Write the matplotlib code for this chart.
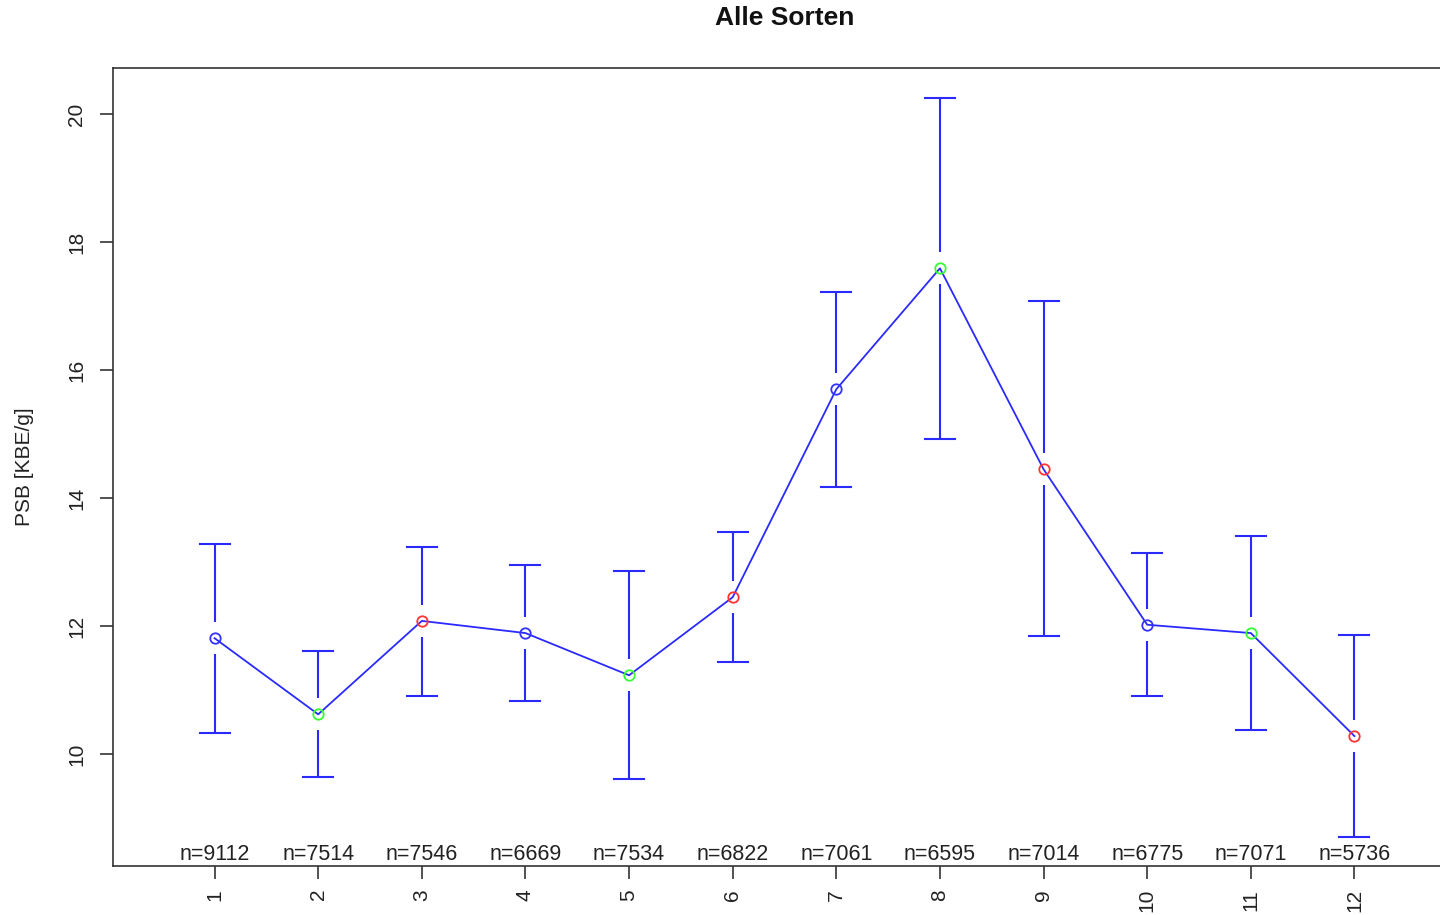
import matplotlib
matplotlib.use("Agg")
import matplotlib.pyplot as plt

plt.rcParams['font.family'] = ['Liberation Sans', 'DejaVu Sans']

months = [1, 2, 3, 4, 5, 6, 7, 8, 9, 10, 11, 12]
means = [11.81, 10.62, 12.08, 11.89, 11.23, 12.45, 15.70, 17.59, 14.45, 12.02, 11.89, 10.28]
upper = [13.28, 11.61, 13.23, 12.95, 12.86, 13.47, 17.22, 20.25, 17.08, 13.14, 13.41, 11.86]
lower = [10.33, 9.64, 10.91, 10.83, 9.61, 11.44, 14.17, 14.92, 11.84, 10.91, 10.38, 8.70]
counts = [9112, 7514, 7546, 6669, 7534, 6822, 7061, 6595, 7014, 6775, 7071, 5736]
point_colors = ['#3333ff', '#33ff33', '#ff3333'] * 4

fig = plt.figure(figsize=(14.4, 9.15), dpi=100)
ax = fig.add_axes([113/1440, 1 - 866/915, (1456 - 113)/1440, (866 - 68)/915])

blue = '#2a2aff'
gap = 0.25
cap = 0.145
for x, m, u, l in zip(months, means, upper, lower):
    ax.plot([x, x], [m + gap, u], color=blue, lw=1.5, solid_capstyle='butt')
    ax.plot([x, x], [l, m - gap], color=blue, lw=1.5, solid_capstyle='butt')
    ax.plot([x - cap, x + cap], [u, u], color=blue, lw=1.5)
    ax.plot([x - cap, x + cap], [l, l], color=blue, lw=1.5)

ax.plot(months, means, color=blue, lw=1.3, zorder=3)
for x, m, c in zip(months, means, point_colors):
    ax.plot([x], [m], marker='o', ms=7.5, mfc='none', mec=c, mew=1.3, zorder=4)

ax.set_xlim(0.02, 12.98)
ax.set_ylim(8.25, 20.72)

for x, n in zip(months, counts):
    ax.text(x, 8.27, f"n={n}", ha='center', va='bottom', fontsize=15.5, color='#222222')

ax.set_xticks(months)
ax.set_xticklabels([str(m) for m in months], rotation=90, fontsize=15)
ax.set_yticks([10, 12, 14, 16, 18, 20])
ax.set_yticklabels(['10', '12', '14', '16', '18', '20'], rotation=90, va='center', fontsize=15)
ax.tick_params(axis='both', length=9.5, width=1.2, color='#333333', labelcolor='#222222')
ax.tick_params(axis='y', pad=10)
ax.tick_params(axis='x', pad=7)
for s in ax.spines.values():
    s.set_linewidth(1.2)
    s.set_color('#333333')

ax.set_ylabel('PSB [KBE/g]', fontsize=15, color='#222222', labelpad=24)
fig.text(785/1440, 1 - 18/915, 'Alle Sorten', ha='center', va='center', fontsize=19, fontweight='bold', color='#111111')

fig.savefig('out.png', dpi=100)
